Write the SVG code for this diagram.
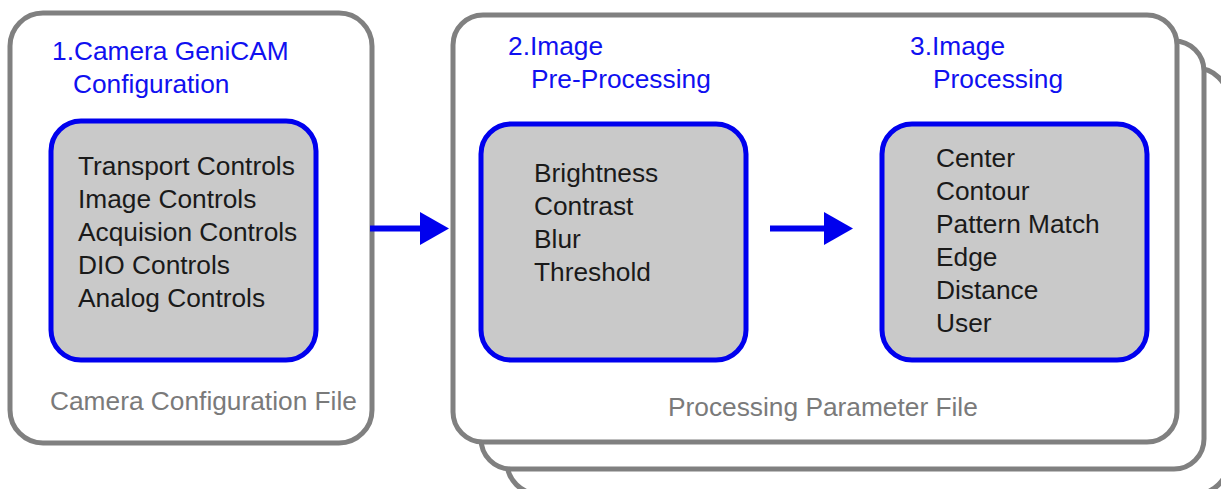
<svg xmlns="http://www.w3.org/2000/svg" width="1221" height="489" viewBox="0 0 1221 489">
  <style>
    .outer { fill: #ffffff; stroke: #808080; stroke-width: 5; }
    .inner { fill: #c9c9c9; stroke: #0000ee; stroke-width: 5; }
    .title { font-family: "Liberation Sans", Arial, sans-serif; font-size: 26.3px; fill: #1010f0; }
    .item { font-family: "Liberation Sans", Arial, sans-serif; font-size: 26.3px; fill: #1a1a1a; }
    .file { font-family: "Liberation Sans", Arial, sans-serif; font-size: 26.3px; fill: #7a7a7a; }
    .conn { stroke: #0000ee; stroke-width: 6; fill: none; }
  </style>
  <defs>
    <marker id="arrowhead" markerUnits="userSpaceOnUse" markerWidth="30" markerHeight="34" refX="0" refY="16.5" orient="auto">
      <path d="M0,0 L29,16.5 L0,33 Z" fill="#0000ee"/>
    </marker>
  </defs>
  <rect width="1221" height="489" fill="#ffffff"/>

  <g id="camera-config">
    <rect class="outer" x="10" y="13" width="362" height="430" rx="33" ry="33"/>
    <text class="title" x="52" y="60">1.Camera GeniCAM</text>
    <text class="title" x="73" y="93">Configuration</text>
    <rect class="inner" x="51" y="121" width="265" height="239" rx="30" ry="30"/>
    <text class="item" x="78" y="175">Transport Controls</text>
    <text class="item" x="78" y="208">Image Controls</text>
    <text class="item" x="78" y="241">Acquision Controls</text>
    <text class="item" x="78" y="274">DIO Controls</text>
    <text class="item" x="78" y="307">Analog Controls</text>
    <text class="file" x="50" y="410">Camera Configuration File</text>
  </g>

  <g id="processing-file">
    <rect class="outer" x="507" y="68" width="721" height="426" rx="32" ry="32"/>
    <rect class="outer" x="481" y="41" width="723" height="428" rx="30" ry="30"/>
    <rect class="outer" x="453" y="15" width="724" height="427" rx="30" ry="30"/>
    <text class="file" x="668" y="416">Processing Parameter File</text>
  </g>

  <g id="pre-processing">
    <text class="title" x="508" y="55">2.Image</text>
    <text class="title" x="531" y="88">Pre-Processing</text>
    <rect class="inner" x="481" y="124" width="265" height="236" rx="30" ry="30"/>
    <text class="item" x="534" y="182">Brightness</text>
    <text class="item" x="534" y="215">Contrast</text>
    <text class="item" x="534" y="248">Blur</text>
    <text class="item" x="534" y="281">Threshold</text>
  </g>

  <g id="image-processing">
    <text class="title" x="910" y="55">3.Image</text>
    <text class="title" x="933" y="88">Processing</text>
    <rect class="inner" x="882" y="124" width="265" height="236" rx="30" ry="30"/>
    <text class="item" x="936" y="167">Center</text>
    <text class="item" x="936" y="200">Contour</text>
    <text class="item" x="936" y="233">Pattern Match</text>
    <text class="item" x="936" y="266">Edge</text>
    <text class="item" x="936" y="299">Distance</text>
    <text class="item" x="936" y="332">User</text>
  </g>

  <g id="connectors">
    <line class="conn" x1="370" y1="228.5" x2="420" y2="228.5" marker-end="url(#arrowhead)"/>
    <line class="conn" x1="770" y1="228.5" x2="824" y2="228.5" marker-end="url(#arrowhead)"/>
  </g>
</svg>
